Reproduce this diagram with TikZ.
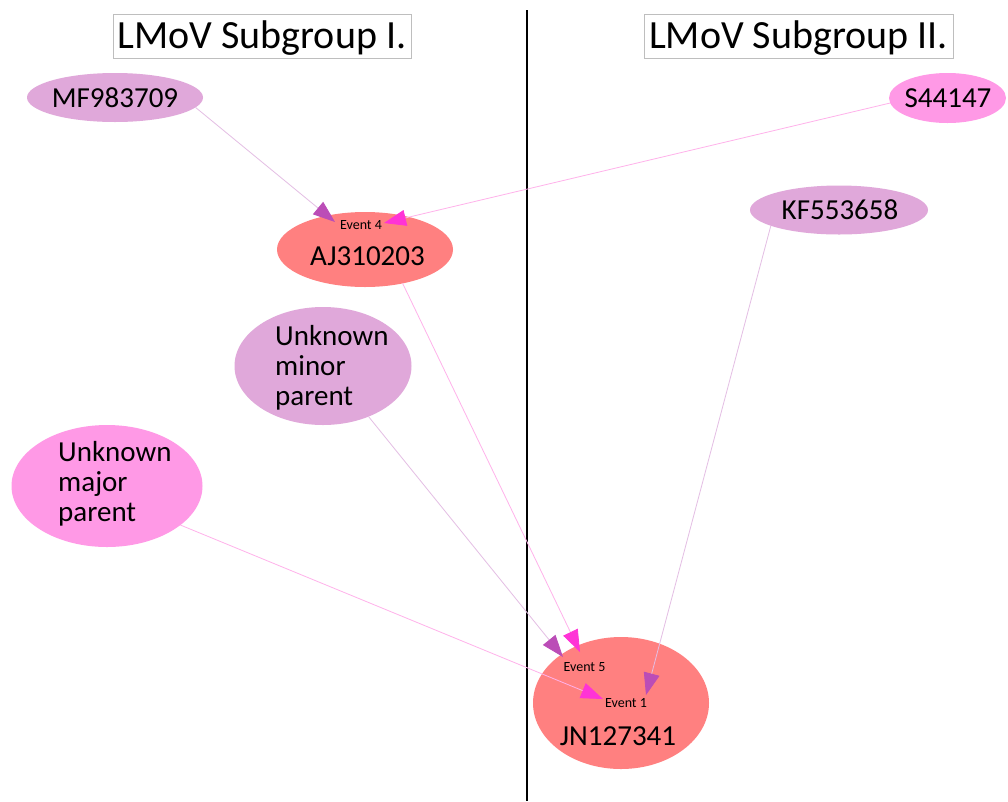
\documentclass[tikz,border=0pt]{standalone}
\usepackage{fontspec}
\setmainfont{Carlito}
\usetikzlibrary{arrows.meta,shapes.geometric}
\definecolor{purpfill}{RGB}{224,168,218}
\definecolor{pinkfill}{RGB}{255,153,230}
\definecolor{salmon}{RGB}{255,128,128}
\definecolor{purparrow}{RGB}{187,77,183}
\definecolor{pinkarrow}{RGB}{255,51,214}
\definecolor{purpline}{RGB}{228,190,228}
\definecolor{pinkline}{RGB}{255,178,235}
\definecolor{boxgray}{RGB}{190,190,190}
\tikzset{
  blob/.style={ellipse, inner sep=0pt, outer sep=0pt},
  big/.style={font=\fontsize{29}{30}\selectfont, inner sep=0pt},
  evt/.style={font=\fontsize{14}{16}\selectfont, inner sep=0pt},
  ttl/.style={font=\fontsize{40}{44}\selectfont, inner sep=0pt, anchor=base},
  tbox/.style={draw=boxgray, line width=0.8pt},
  purpedge/.style={draw=purpline, line width=0.8pt, -{Triangle[length=22pt,width=16pt,color=purparrow]}},
  pinkedge/.style={draw=pinkline, line width=0.8pt, -{Triangle[length=22pt,width=16pt,color=pinkarrow]}},
}
\begin{document}
\begin{tikzpicture}[x=1pt,y=-1pt]
\useasboundingbox (0,0) rectangle (1008,801);
\fill[white] (0,0) rectangle (1008,801);
% titles
\draw[tbox] (113,14) rectangle (411,58);
\draw[tbox] (644,14) rectangle (953,58);
\node[ttl] (t1) at (262,48) {LMoV Subgroup I.};
\node[ttl] (t2) at (798.5,48) {LMoV Subgroup II.};
% divider
\coordinate (dtop) at (527,10);
\coordinate (dbot) at (527,801);
\draw[line width=1.6pt] (dtop) -- (dbot);
% nodes
\node[blob, fill=purpfill, minimum width=176pt, minimum height=49pt] (MF) at (115,97.5) {};
\node[big] (MFt) at (115,97.5) {MF983709};
\node[blob, fill=pinkfill, minimum width=117pt, minimum height=50pt] (S) at (947.5,98) {};
\node[big] (St) at (948,98) {S44147};
\node[blob, fill=purpfill, minimum width=178pt, minimum height=49pt] (KF) at (839,210) {};
\node[big] (KFt) at (840,210) {KF553658};
\node[blob, fill=salmon, minimum width=176pt, minimum height=75pt] (AJ) at (365,249.5) {};
\node[big] (AJt) at (367.5,256) {AJ310203};
\node[evt] (AJe) at (361,225) {Event 4};
\node[blob, fill=purpfill, minimum width=177pt, minimum height=118pt] (MIN) at (323,366) {};
\node[big, align=left, anchor=west] (MINt) at (275,368) {Unknown\\minor\\parent};
\node[blob, fill=pinkfill, minimum width=191pt, minimum height=122pt] (MAJ) at (107,486) {};
\node[big, align=left, anchor=west] (MAJt) at (58,484) {Unknown\\major\\parent};
\node[blob, fill=salmon, minimum width=176pt, minimum height=132pt] (JN) at (621,703) {};
\node[big] (JNt) at (618,736) {JN127341};
\node[evt] (JNe5) at (584.5,667) {Event 5};
\node[evt] (JNe1) at (626,703) {Event 1};
% arrow tips
\coordinate (tMF) at (335,222);
\coordinate (tS) at (384,223);
\coordinate (tAJ) at (580,652);
\coordinate (tMIN) at (563,657);
\coordinate (tMAJ) at (603,699);
\coordinate (tKF) at (646,695);
% edges
\draw[purpedge] (MF.-7) -- (tMF);
\draw[pinkedge] (S.185) -- (tS);
\draw[pinkedge] (AJ.-42) -- (tAJ);
\draw[purpedge] (MIN.-48) -- (tMIN);
\draw[pinkedge] (MAJ.-28) -- (tMAJ);
\draw[purpedge] (KF.193) -- (tKF);
\end{tikzpicture}
\end{document}
